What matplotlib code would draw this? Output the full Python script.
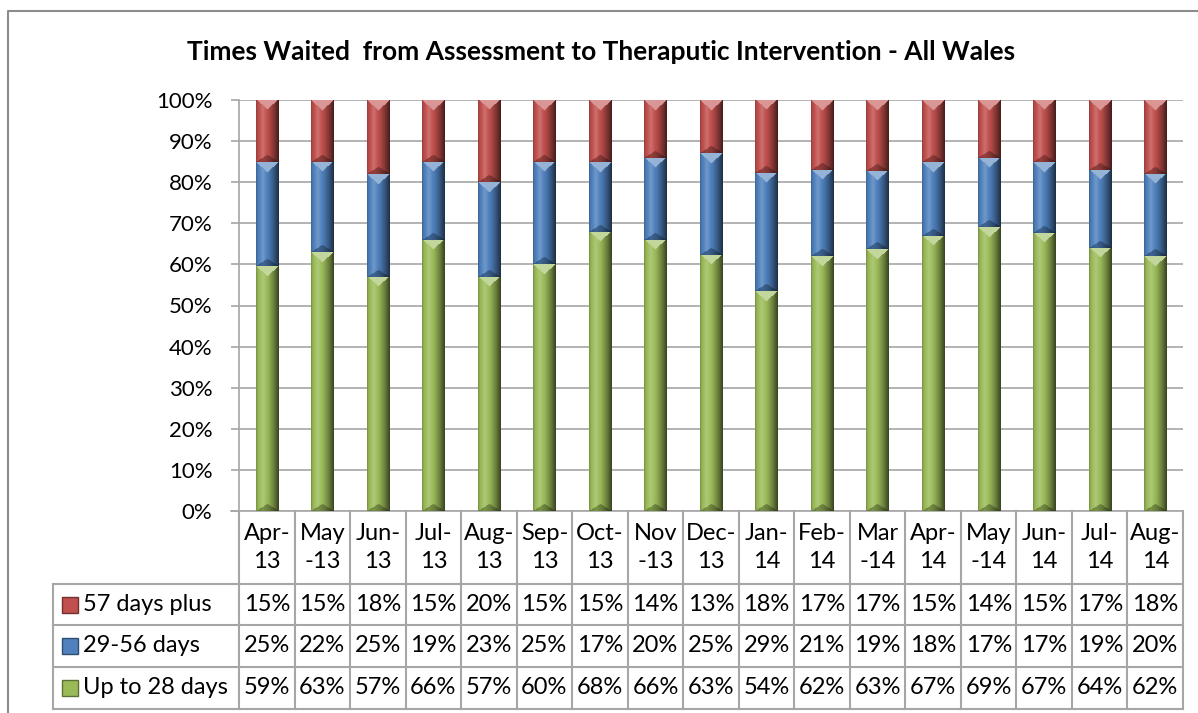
import numpy as np
import matplotlib
matplotlib.use('Agg')
import matplotlib.pyplot as plt
from matplotlib.patches import Rectangle
from matplotlib.lines import Line2D
from matplotlib.colors import to_rgb

# данные
months = ['Apr-\n13', 'May\n-13', 'Jun-\n13', 'Jul-\n13', 'Aug-\n13', 'Sep-\n13', 'Oct-\n13',
          'Nov\n-13', 'Dec-\n13', 'Jan-\n14', 'Feb-\n14', 'Mar\n-14', 'Apr-\n14', 'May\n-14',
          'Jun-\n14', 'Jul-\n14', 'Aug-\n14']
up_to_28 = [59, 63, 57, 66, 57, 60, 68, 66, 63, 54, 62, 63, 67, 69, 67, 64, 62]
days_29_56 = [25, 22, 25, 19, 23, 25, 17, 20, 25, 29, 21, 19, 18, 17, 17, 19, 20]
days_57_plus = [15, 15, 18, 15, 20, 15, 15, 14, 13, 18, 17, 17, 15, 14, 15, 17, 18]
series_names = ['57 days plus', '29-56 days', 'Up to 28 days']
title = 'Times Waited  from Assessment to Theraputic Intervention - All Wales'

colors = {'Up to 28 days': '#9BBB59', '29-56 days': '#4F81BD', '57 days plus': '#C0504D'}

plt.rcParams['font.family'] = ['Lato', 'DejaVu Sans']
W, H = 1198, 713
fig = plt.figure(figsize=(W / 100, H / 100), dpi=100)

# область графика в пикселях
x_left, x_right, y_top, y_bot = 239, 1183, 100, 511
ax = fig.add_axes([x_left / W, 1 - y_bot / H, (x_right - x_left) / W, (y_bot - y_top) / H])

n = len(months)
x = np.arange(n)
g = np.array(up_to_28, float)
b = np.array(days_29_56, float)
r = np.array(days_57_plus, float)
tot = g + b + r
g, b, r = g / tot * 100, b / tot * 100, r / tot * 100

bar_w = 0.4
px_per_unit = (y_bot - y_top) / 100.0


def shade(bars, color):
    # объёмная заливка столбцов
    base = np.array(to_rgb(color))
    cols = 24
    u = (np.arange(cols) + 0.5) / cols
    prof = np.interp(u, [0, 0.08, 0.3, 0.55, 0.8, 1], [0.75, 0.95, 1.12, 0.95, 0.65, 0.35])
    v = (1 - np.abs(2 * u - 1))[None, :]
    for p in bars:
        x0, y0, w, h = p.get_x(), p.get_y(), p.get_width(), p.get_height()
        rows = max(int(h * px_per_unit), 2)
        dpx = np.arange(rows)[:, None] + 0.5
        f = np.tile(prof, (rows, 1))
        f = np.where(dpx < 10 * v, 1.25, f)
        f = np.where(rows - dpx < 7 * v, f * 0.7, f)
        img = np.empty((rows, cols, 3))
        for k in range(3):
            c = base[k]
            img[:, :, k] = np.where(f > 1, c + (1 - c) * (f - 1) * 1.6, c * f)
        img = np.clip(img, 0, 1)
        im = ax.imshow(img, extent=[x0, x0 + w, y0, y0 + h], origin='upper',
                       aspect='auto', interpolation='bilinear', zorder=3)
        im.set_clip_path(p)


bars_g = ax.bar(x, g, bar_w, color=colors['Up to 28 days'], zorder=2)
bars_b = ax.bar(x, b, bar_w, bottom=g, color=colors['29-56 days'], zorder=2)
bars_r = ax.bar(x, r, bar_w, bottom=g + b, color=colors['57 days plus'], zorder=2)
shade(bars_g, colors['Up to 28 days'])
shade(bars_b, colors['29-56 days'])
shade(bars_r, colors['57 days plus'])

ax.set_xlim(-0.5, n - 0.5)
ax.set_ylim(0, 100)
ax.set_yticks(np.arange(0, 101, 10))
ax.set_yticklabels([f'{v}%' for v in range(0, 101, 10)], fontsize=16)
ax.set_xticks([])
ax.yaxis.grid(True, color='#A6A6A6', linewidth=1.2)
ax.set_axisbelow(True)
ax.tick_params(axis='y', length=6, width=1.2, color='#A6A6A6', pad=13)
for s in ['top', 'right', 'bottom']:
    ax.spines[s].set_visible(False)
ax.spines['left'].set_color('#A6A6A6')
ax.spines['left'].set_linewidth(1.2)

# таблица данных
tr = ax.get_xaxis_transform()
unit = (x_right - x_left) / n
leg_left = -0.5 - (x_left - 53) / unit
row_edges = [0, -(584 - y_bot) / 411, -(625 - y_bot) / 411, -(667 - y_bot) / 411, -(709 - y_bot) / 411]
lc = '#A6A6A6'
lw = 1.5
for i in range(n + 1):
    ax.add_line(Line2D([i - 0.5, i - 0.5], [0, row_edges[-1]], transform=tr, color=lc, lw=lw, clip_on=False))
ax.add_line(Line2D([leg_left, leg_left], [row_edges[1], row_edges[-1]], transform=tr, color=lc, lw=lw, clip_on=False))
for ye in row_edges[1:]:
    ax.add_line(Line2D([leg_left, n - 0.5], [ye, ye], transform=tr, color=lc, lw=lw, clip_on=False))
ax.add_line(Line2D([-0.5 - 8 / unit, n - 0.5], [0, 0], transform=tr, color=lc, lw=1.2, clip_on=False))

for i, lab in enumerate(months):
    ax.text(i, row_edges[1] / 2, lab, transform=tr, ha='center', va='center', fontsize=17,
            linespacing=1.45)

table_rows = [days_57_plus, days_29_56, up_to_28]
key_w = 16 / unit
key_h = 16 / 411
for j, (name, vals) in enumerate(zip(series_names, table_rows)):
    yc = (row_edges[j + 1] + row_edges[j + 2]) / 2
    for i, v in enumerate(vals):
        ax.text(i, yc, f'{v}%', transform=tr, ha='center', va='center', fontsize=17)
    kx = leg_left + 9 / unit
    c = colors[name]
    ax.add_patch(Rectangle((kx, yc - key_h / 2), key_w, key_h, transform=tr, facecolor=c,
                           edgecolor=np.array(to_rgb(c)) * 0.6, lw=1, clip_on=False))
    ax.text(kx + key_w + 5 / unit, yc, name, transform=tr, ha='left', va='center', fontsize=17)

fig.text(601 / W, 1 - 52 / H, title, ha='center', va='center', fontsize=19, fontweight='bold')

# рамка
fig.add_artist(Line2D([8 / W, 8 / W, 1], [0, 1 - 11 / H, 1 - 11 / H], transform=fig.transFigure,
                      color='#8C8C8C', lw=1.5))

fig.savefig('out.png', dpi=100)
